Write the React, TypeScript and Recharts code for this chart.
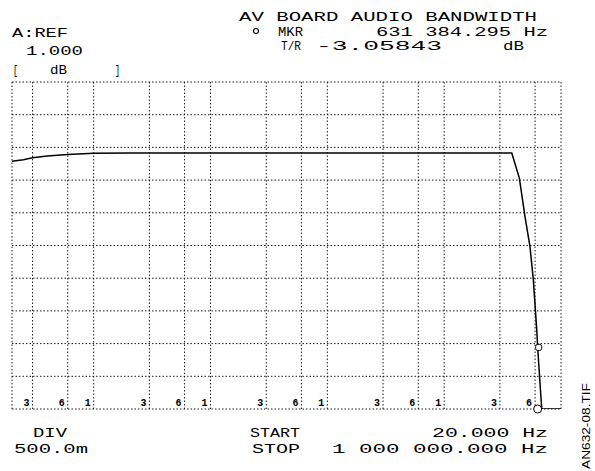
import React from "react";
import { LineChart, Line, XAxis, YAxis, ReferenceLine, ReferenceDot } from "recharts";

// trace (log frequency, dB)
const freqHz = [20, 25, 30, 40, 60, 100, 200, 300, 1000, 10000, 100000, 379000, 440000, 492000, 543000, 580000, 620000, 631384, 670000, 684000, 700000, 1000000];
const gainDb = [-0.21, -0.19, -0.16, -0.13, -0.11, -0.09, -0.087, -0.085, -0.085, -0.085, -0.085, -0.085, -0.47, -1.06, -1.52, -2.03, -2.79, -3.06, -3.76, -3.99, -4, -4];

const gridFreqs = [30, 60, 100, 300, 600, 1000, 3000, 6000, 10000, 30000, 60000, 100000, 300000, 600000];
const gridLabels = ["3", "6", "1", "3", "6", "1", "3", "6", "1", "3", "6", "1", "3", "6"];
const gridDb = [0.5, 0, -0.5, -1, -1.5, -2, -2.5, -3, -3.5];

const startHz = 20;
const stopHz = 1000000;
const refDb = 1;
const bottomDb = -4;
const markerHz = 631384.295;
const markerDb = -3.05843;

const data = freqHz.map((f, i) => ({ f, db: gainDb[i] }));

const MONO = "'Liberation Mono', 'DejaVu Sans Mono', monospace";
const dotted = { stroke: "#000", strokeWidth: 0.9, strokeDasharray: "1.5 2" };

function T({ x, y, w, size = 13, children }: { x: number; y: number; w: number; size?: number; children: string }) {
  return (
    <text x={x} y={y} textLength={w} lengthAdjust="spacingAndGlyphs" fontFamily={MONO} fontSize={size} fill="#000">
      {children}
    </text>
  );
}

function MarkerSquare(props: any) {
  const { cx, cy } = props;
  return <rect x={cx - 2} y={cy - 3} width={6} height={6} fill="#fff" stroke="#000" strokeWidth={1} rx={2} />;
}

export default function App() {
  return (
    <div style={{ position: "absolute", left: 0, top: 0, width: 595, height: 471, background: "#fff" }}>
      <LineChart width={595} height={471} data={data} margin={{ top: 82, right: 34, left: 12, bottom: 62 }}>
        <XAxis type="number" dataKey="f" scale="log" domain={[startHz, stopHz]} hide allowDataOverflow />
        <YAxis type="number" domain={[bottomDb, refDb]} hide allowDataOverflow />
        {gridDb.map((v) => (
          <ReferenceLine key={"h" + v} y={v} {...dotted} />
        ))}
        {gridFreqs.map((f, i) => (
          <ReferenceLine
            key={"v" + f}
            x={f}
            {...dotted}
            label={{ value: gridLabels[i], position: "insideBottomRight", offset: 3, fontSize: 10, fill: "#000", fontFamily: MONO, fontWeight: "bold" }}
          />
        ))}
        <ReferenceLine x={startHz} {...dotted} />
        <ReferenceLine x={stopHz} {...dotted} />
        <ReferenceLine y={refDb} {...dotted} />
        <ReferenceLine y={bottomDb} {...dotted} />
        <Line dataKey="db" type="linear" stroke="#000" strokeWidth={1.5} dot={false} isAnimationActive={false} />
        <ReferenceDot x={markerHz} y={markerDb} shape={MarkerSquare} />
        <ReferenceDot x={markerHz} y={bottomDb} r={4} fill="#fff" stroke="#000" strokeWidth={1} />
      </LineChart>
      <svg width={595} height={471} style={{ position: "absolute", left: 0, top: 0, pointerEvents: "none" }}>
        <T x={239} y={21} w={298} size={12}>AV BOARD AUDIO BANDWIDTH</T>
        <circle cx={256} cy={31} r={2.5} fill="none" stroke="#000" strokeWidth={1.1} />
        <T x={278} y={36} w={25} size={12}>MKR</T>
        <T x={376} y={36} w={172} size={12}>631 384.295 Hz</T>
        <T x={281} y={50} w={20} size={12}>T/R</T>
        <T x={316} y={50} w={126} size={12}>-3.05843</T>
        <T x={503} y={50} w={21} size={12}>dB</T>
        <T x={12} y={37} w={56}>A:REF</T>
        <T x={26} y={55} w={57}>1.000</T>
        <T x={13} y={74} w={5}>[</T>
        <T x={50} y={74} w={17}>dB</T>
        <T x={115} y={74} w={5}>]</T>
        <T x={33} y={437} w={34}>DIV</T>
        <T x={14} y={453} w={74}>500.0m</T>
        <T x={250} y={437} w={50}>START</T>
        <T x={252} y={453} w={48}>STOP</T>
        <T x={432} y={437} w={116}>20.000 Hz</T>
        <T x={332} y={453} w={216}>1 000 000.000 Hz</T>
        <text
          x={0}
          y={0}
          transform="translate(590 426) rotate(-90)"
          textAnchor="middle"
          fontFamily="'Liberation Sans', Arial, sans-serif"
          fontSize={11}
          textLength={86}
          lengthAdjust="spacingAndGlyphs"
          fill="#000"
        >
          AN632-08.TIF
        </text>
      </svg>
    </div>
  );
}
